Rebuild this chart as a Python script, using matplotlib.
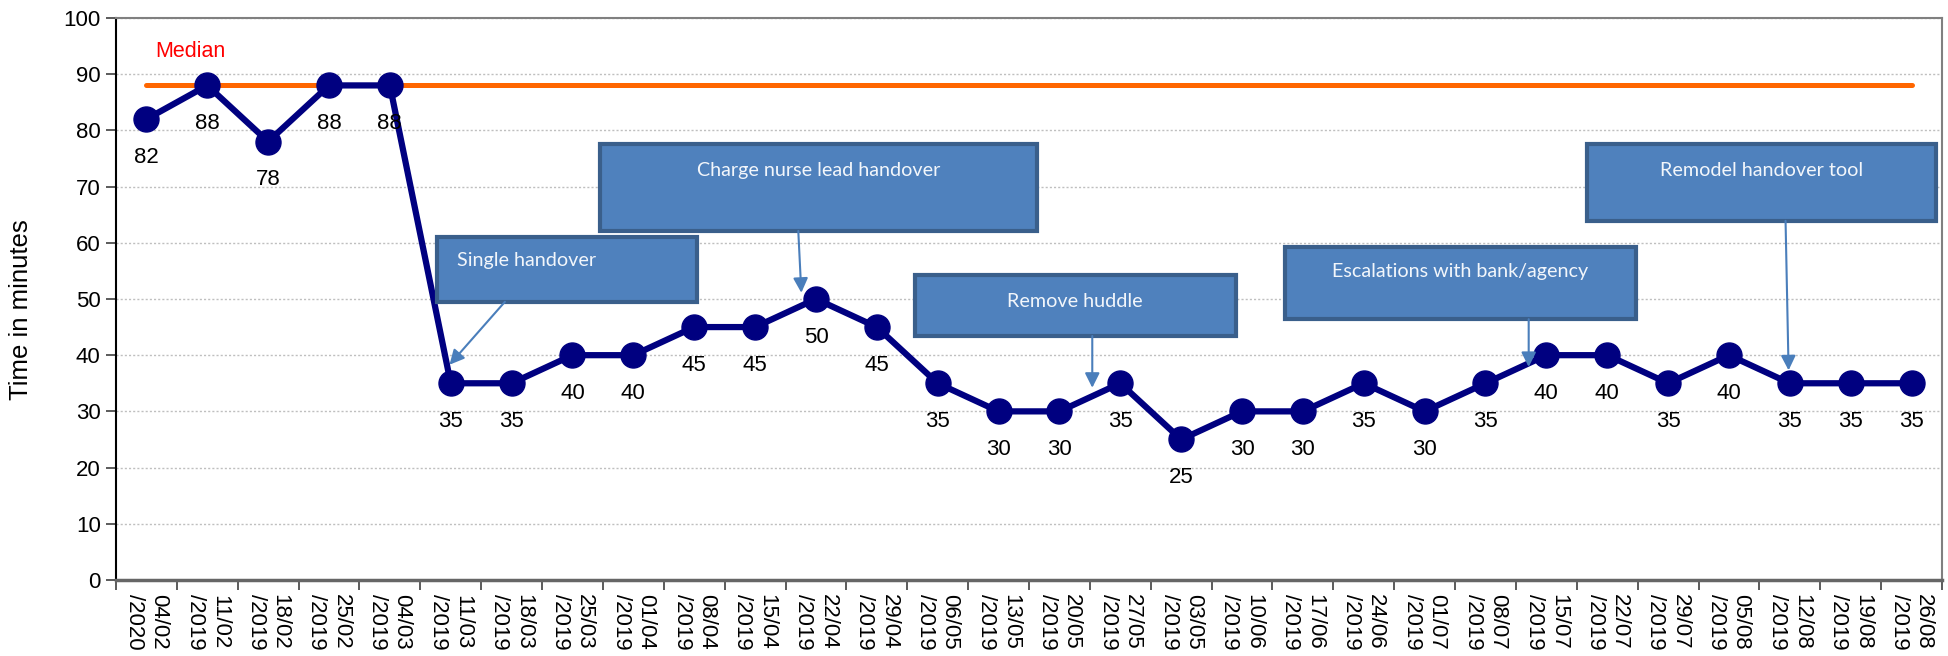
import matplotlib
matplotlib.use("Agg")
import matplotlib.pyplot as plt
from matplotlib.patches import Rectangle

# ---- data ----
dates = ["04/02/2020", "11/02/2019", "18/02/2019", "25/02/2019", "04/03/2019",
         "11/03/2019", "18/03/2019", "25/03/2019", "01/04/2019", "08/04/2019",
         "15/04/2019", "22/04/2019", "29/04/2019", "06/05/2019", "13/05/2019",
         "20/05/2019", "27/05/2019", "03/05/2019", "10/06/2019", "17/06/2019",
         "24/06/2019", "01/07/2019", "08/07/2019", "15/07/2019", "22/07/2019",
         "29/07/2019", "05/08/2019", "12/08/2019", "19/08/2019", "26/08/2019"]
minutes = [82, 88, 78, 88, 88, 35, 35, 40, 40, 45, 45, 50, 45, 35, 30,
           30, 35, 25, 30, 30, 35, 30, 35, 40, 40, 35, 40, 35, 35, 35]
median_value = 88
median_label = "Median"
y_label = "Time in minutes"
y_ticks = [0, 10, 20, 30, 40, 50, 60, 70, 80, 90, 100]

annotation_texts = ["Single handover", "Charge nurse lead handover", "Remove huddle",
                    "Escalations with bank/agency", "Remodel handover tool"]

# ---- figure ----
plt.rcParams['font.family'] = ['Liberation Sans', 'DejaVu Sans']
fig = plt.figure(figsize=(19.49, 6.56), dpi=100)
ax = fig.add_axes([0.0595, 0.1159, 0.9369, 0.8567])

x = list(range(len(minutes)))
ax.set_xlim(-0.5, len(minutes) - 0.5)
ax.set_ylim(0, 100)

# gridlines
ax.set_yticks(y_ticks)
ax.yaxis.grid(True, linestyle=(0, (1.5, 1.5)), color='#BFBFBF', linewidth=1.0)
ax.set_axisbelow(True)

# median line
ax.plot([x[0], x[-1]], [median_value, median_value], color='#FF6600', lw=3.6,
        solid_capstyle='round', zorder=3)
ax.text(0.72, 94, median_label, color='#FF0000', fontsize=15.5, ha='center', va='center')

# data series
ax.plot(x, minutes, color='#000080', lw=4.5, marker='o', markersize=18,
        markerfacecolor='#000080', markeredgecolor='#000080', zorder=4)
for xi, v in zip(x, minutes):
    ax.annotate(str(v), (xi, v), xytext=(0, -27.5), textcoords='offset points',
                ha='center', va='center', fontsize=16, color='#000000', zorder=5)

# x ticks between categories, labels at centres
ax.set_xticks([i - 0.5 for i in range(len(minutes) + 1)])
ax.set_xticklabels([])
ax.set_xticks(x, minor=True)
ax.set_xticklabels([d[:5] + "\n" + d[5:] for d in dates], minor=True,
                   rotation=270, fontsize=16, linespacing=1.2)
ax.tick_params(axis='x', which='minor', length=0, pad=10)
ax.tick_params(axis='x', which='major', length=7, width=1.2, color='#404040', direction='out')
ax.tick_params(axis='y', length=7, width=1.2, color='#404040', labelsize=16, pad=4)

fig.text(21 / 1949, 1 - 310 / 656, y_label, fontsize=18.5, rotation=90,
         ha='center', va='center')

for s in ['top', 'right']:
    ax.spines[s].set_color('#808080')
    ax.spines[s].set_linewidth(1.5)
ax.spines['left'].set_color('#000000')
ax.spines['left'].set_linewidth(1.5)
ax.spines['bottom'].set_color('#666666')
ax.spines['bottom'].set_linewidth(2.5)

# annotation boxes: (x0, x1, y0, y1), text x, text y, align, arrow start, arrow tip
boxes = [
    ((4.77, 9.04, 49.5, 61.0), 5.1, 56.8, 'left', (5.89, 49.5), (4.98, 38.3)),
    ((7.45, 14.64, 62.1, 77.5), 11.05, 72.8, 'center', (10.71, 62.1), (10.76, 51.1)),
    ((12.62, 17.9, 43.4, 54.3), 15.26, 49.6, 'center', (15.54, 43.4), (15.54, 34.2)),
    ((18.70, 24.47, 46.4, 59.3), 21.59, 54.8, 'center', (22.71, 46.4), (22.71, 37.9)),
    ((23.66, 29.4, 63.9, 77.5), 26.53, 72.8, 'center', (26.93, 63.9), (26.98, 37.3)),
]
for (bx, tx, ty, ha, a0, a1), txt in zip(boxes, annotation_texts):
    x0, x1, y0, y1 = bx
    ax.add_patch(Rectangle((x0, y0), x1 - x0, y1 - y0, facecolor='#4F81BD',
                           edgecolor='#3A5F8B', linewidth=3.0, zorder=6, clip_on=False))
    ax.text(tx, ty, txt, color='#F2F6FB', fontsize=14.2, family=['Lato', 'DejaVu Sans'],
            ha=ha, va='center', zorder=7)
    ax.annotate('', xy=a1, xytext=a0,
                arrowprops=dict(arrowstyle='-|>', color='#4A7EBB', lw=1.5,
                                mutation_scale=22, shrinkA=0, shrinkB=0), zorder=7)

fig.savefig("out.png", dpi=100)
